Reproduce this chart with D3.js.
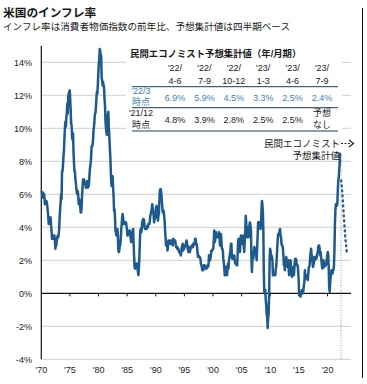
<!DOCTYPE html>
<html>
<head>
<meta charset="utf-8">
<script src="https://cdn.jsdelivr.net/npm/d3@7"></script>
<style>
  body { margin: 0; background: #fff; }
  text { font-family: "Liberation Sans", "Noto Sans CJK JP", sans-serif; fill: #1a1a1a; }
</style>
</head>
<body>
<div id="chart"></div>
<script>
const W = 367, H = 384;

// CPI year-over-year (%), monthly, Jan 1970 - Mar 2022
const cpi1970s = [
  6.2, 6.1, 5.8, 6.1, 6.0, 6.0, 5.9, 5.4, 5.6, 5.6, 5.6, 5.5,
  5.3, 5.0, 4.7, 4.2, 4.4, 4.6, 4.4, 4.6, 4.1, 3.8, 3.3, 3.3,
  3.3, 3.5, 3.5, 3.5, 3.2, 2.7, 2.9, 2.9, 3.2, 3.4, 3.5, 3.4,
  3.6, 3.9, 4.6, 5.1, 5.5, 6.0, 5.7, 7.4, 7.4, 7.8, 8.3, 8.7,
  9.4, 10.0, 10.4, 10.1, 10.7, 10.9, 11.5, 10.9, 11.9, 12.1, 12.2, 12.3,
  11.8, 11.2, 10.3, 10.2, 9.5, 9.3, 9.7, 8.6, 7.9, 7.4, 7.4, 6.9,
  6.7, 6.3, 6.1, 6.0, 6.2, 5.9, 5.4, 5.7, 5.5, 5.3, 4.9, 4.9,
  5.2, 6.0, 6.4, 6.9, 6.7, 6.9, 6.8, 6.6, 6.6, 6.4, 6.7, 6.7,
  6.8, 6.4, 6.6, 6.5, 6.9, 7.4, 7.7, 7.9, 8.3, 8.9, 8.9, 9.0,
  9.3, 9.9, 10.1, 10.5, 10.9, 10.9, 11.3, 11.8, 12.2, 12.1, 12.6, 13.3
];
const cpi1980s = [
  13.9, 14.2, 14.8, 14.7, 14.4, 14.4, 13.1, 12.9, 12.6, 12.8, 12.6, 12.5,
  11.8, 11.4, 10.5, 10.0, 9.8, 9.6, 10.8, 10.8, 11.0, 10.1, 9.6, 8.9,
  8.4, 7.6, 6.8, 6.5, 6.7, 7.1, 6.4, 5.9, 5.0, 5.1, 4.6, 3.8,
  3.7, 3.5, 3.6, 3.9, 3.5, 2.6, 2.5, 2.6, 2.9, 2.9, 3.3, 3.8,
  4.2, 4.6, 4.8, 4.6, 4.2, 4.2, 4.2, 4.3, 4.3, 4.3, 4.1, 3.9,
  3.5, 3.5, 3.7, 3.7, 3.8, 3.8, 3.6, 3.3, 3.1, 3.2, 3.5, 3.8,
  3.9, 3.1, 2.3, 1.6, 1.5, 1.8, 1.6, 1.6, 1.8, 1.5, 1.3, 1.1,
  1.5, 2.1, 3.0, 3.8, 3.9, 3.7, 3.9, 4.3, 4.4, 4.5, 4.5, 4.4,
  4.0, 3.9, 3.9, 3.9, 3.9, 4.0, 4.1, 4.0, 4.2, 4.2, 4.2, 4.4,
  4.7, 4.8, 5.0, 5.1, 5.4, 5.2, 5.0, 4.7, 4.3, 4.5, 4.7, 4.6
];
const cpi1990s = [
  5.2, 5.3, 5.2, 4.7, 4.4, 4.7, 4.8, 5.6, 6.2, 6.3, 6.3, 6.1,
  5.7, 5.3, 4.9, 4.9, 5.0, 4.7, 4.4, 3.8, 3.4, 2.9, 3.0, 3.1,
  2.6, 2.8, 3.2, 3.2, 3.0, 3.1, 3.2, 3.1, 3.0, 3.2, 3.0, 2.9,
  3.3, 3.2, 3.1, 3.2, 3.2, 3.0, 2.8, 2.8, 2.7, 2.8, 2.7, 2.7,
  2.5, 2.5, 2.5, 2.4, 2.3, 2.5, 2.8, 2.9, 3.0, 2.6, 2.7, 2.7,
  2.8, 2.9, 2.9, 3.1, 3.2, 3.0, 2.8, 2.6, 2.5, 2.8, 2.6, 2.5,
  2.7, 2.7, 2.8, 2.9, 2.9, 2.8, 3.0, 2.9, 3.0, 3.0, 3.3, 3.3,
  3.0, 3.0, 2.8, 2.5, 2.2, 2.3, 2.2, 2.2, 2.2, 2.1, 1.8, 1.7,
  1.6, 1.4, 1.4, 1.4, 1.7, 1.7, 1.7, 1.6, 1.5, 1.5, 1.5, 1.6,
  1.7, 1.6, 1.7, 2.3, 2.1, 2.0, 2.1, 2.3, 2.6, 2.6, 2.6, 2.7
];
const cpi2000s = [
  2.7, 3.2, 3.8, 3.1, 3.2, 3.7, 3.7, 3.4, 3.5, 3.4, 3.4, 3.4,
  3.7, 3.5, 2.9, 3.3, 3.6, 3.2, 2.7, 2.7, 2.6, 2.1, 1.9, 1.6,
  1.1, 1.1, 1.5, 1.6, 1.2, 1.1, 1.5, 1.8, 1.5, 2.0, 2.2, 2.4,
  2.6, 3.0, 3.0, 2.2, 2.1, 2.1, 2.1, 2.2, 2.3, 2.0, 1.8, 1.9,
  1.9, 1.7, 1.7, 2.3, 3.1, 3.3, 3.0, 2.7, 2.5, 3.2, 3.5, 3.3,
  3.0, 3.0, 3.1, 3.5, 2.8, 2.5, 3.2, 3.6, 4.7, 4.3, 3.5, 3.4,
  4.0, 3.6, 3.4, 3.5, 4.2, 4.3, 4.1, 3.8, 2.1, 1.3, 2.0, 2.5,
  2.1, 2.4, 2.8, 2.6, 2.7, 2.7, 2.4, 2.0, 2.8, 3.5, 4.3, 4.1,
  4.3, 4.0, 4.0, 3.9, 4.2, 5.0, 5.6, 5.4, 4.9, 3.7, 1.1, 0.1,
  0.0, 0.2, -0.4, -0.7, -1.3, -1.4, -2.1, -1.5, -1.3, -0.2, 1.8, 2.7
];
const cpi2010s = [
  2.6, 2.1, 2.3, 2.2, 2.0, 1.1, 1.2, 1.1, 1.1, 1.2, 1.1, 1.5,
  1.6, 2.1, 2.7, 3.2, 3.6, 3.6, 3.6, 3.8, 3.9, 3.5, 3.4, 3.0,
  2.9, 2.9, 2.7, 2.3, 1.7, 1.7, 1.4, 1.7, 2.0, 2.2, 1.8, 1.7,
  1.6, 2.0, 1.5, 1.1, 1.4, 1.8, 2.0, 1.5, 1.2, 1.0, 1.2, 1.5,
  1.6, 1.1, 1.5, 2.0, 2.1, 2.1, 2.0, 1.7, 1.7, 1.7, 1.3, 0.8,
  -0.1, 0.0, -0.1, -0.2, 0.0, 0.1, 0.2, 0.2, 0.0, 0.2, 0.5, 0.7,
  1.4, 1.0, 0.9, 1.1, 1.0, 1.0, 0.8, 1.1, 1.5, 1.6, 1.7, 2.1,
  2.5, 2.7, 2.4, 2.2, 1.9, 1.6, 1.7, 1.9, 2.2, 2.0, 2.2, 2.1,
  2.1, 2.2, 2.4, 2.5, 2.8, 2.9, 2.9, 2.7, 2.3, 2.5, 2.2, 1.9,
  1.6, 1.5, 1.9, 2.0, 1.8, 1.6, 1.8, 1.7, 1.7, 1.8, 2.1, 2.3
];
const cpi2020s = [
  2.5, 2.3, 1.5, 0.3, 0.1, 0.6, 1.0, 1.3, 1.4, 1.2, 1.2, 1.4,
  1.4, 1.7, 2.6, 4.2, 5.0, 5.4, 5.4, 5.3, 5.4, 6.2, 6.8, 7.0,
  7.5, 7.9, 8.5
];
const startYear = 1970;

// Economist consensus forecast (quarterly)
const quarterTop = ["'22/", "'22/", "'22/", "'23/", "'23/", "'23/"];
const quarterBottom = ["4-6", "7-9", "10-12", "1-3", "4-6", "7-9"];
const quarterMid = [2022.375, 2022.625, 2022.875, 2023.125, 2023.375, 2023.625];
const forecastMar22 = [6.9, 5.9, 4.5, 3.3, 2.5, 2.4];
const forecastDec21 = ["4.8%", "3.9%", "2.8%", "2.5%", "2.5%", null];

const yTicks = [-4, -2, 0, 2, 4, 6, 8, 10, 12, 14];
const xTicks = [1970, 1975, 1980, 1985, 1990, 1995, 2000, 2005, 2010, 2015, 2020];

const blue = "#1f5a8c";
const lightBlue = "#3f7fb4";

const series = [].concat(cpi1970s, cpi1980s, cpi1990s, cpi2000s, cpi2010s, cpi2020s)
  .map((v, i) => ({ t: startYear + (i + 0.5) / 12, v: v }));

const x = d3.scaleLinear().domain([1970, 2024.1]).range([41.3, 351]);
const y = d3.scaleLinear().domain([-4, 15]).range([359.3, 45.8]);

const svg = d3.select("#chart").append("svg")
  .attr("width", W).attr("height", H);

// titles
svg.append("text").attr("x", 3).attr("y", 17)
  .style("font-size", "11.7px").style("font-weight", "bold")
  .text("米国のインフレ率");
svg.append("text").attr("x", 3).attr("y", 30)
  .style("font-size", "9.6px")
  .text("インフレ率は消費者物価指数の前年比、予想集計値は四半期ベース");

// right border
svg.append("line").attr("x1", 362.5).attr("x2", 362.5).attr("y1", 8).attr("y2", 378)
  .attr("stroke", "#111").attr("stroke-width", 1);

// gridlines
svg.append("g").selectAll("line")
  .data(yTicks.filter(d => d !== 0))
  .enter().append("line")
  .attr("x1", x(1970)).attr("x2", x.range()[1])
  .attr("y1", d => y(d)).attr("y2", d => y(d))
  .attr("stroke", "#cfcfcf").attr("stroke-width", 1);

// y labels
svg.append("g").selectAll("text")
  .data(yTicks)
  .enter().append("text")
  .attr("x", 32).attr("y", d => y(d) + 3.5)
  .attr("text-anchor", "end")
  .style("font-size", "9px")
  .text(d => d + "%");

// x labels
svg.append("g").selectAll("text")
  .data(xTicks)
  .enter().append("text")
  .attr("x", d => x(d)).attr("y", 373)
  .attr("text-anchor", "middle")
  .style("font-size", "9px")
  .text(d => "'" + String(d).slice(2));

// forecast start marker (dotted)
svg.append("line")
  .attr("x1", x(quarterMid[0])).attr("x2", x(quarterMid[0]))
  .attr("y1", 160).attr("y2", y(-4))
  .attr("stroke", "#999").attr("stroke-width", 1)
  .attr("stroke-dasharray", "1,1.5");

// zero line with ticks
svg.append("line")
  .attr("x1", x(1970)).attr("x2", x.range()[1])
  .attr("y1", y(0)).attr("y2", y(0))
  .attr("stroke", "#111").attr("stroke-width", 1.2);
svg.append("g").selectAll("line")
  .data(xTicks.slice(1))
  .enter().append("line")
  .attr("x1", d => x(d)).attr("x2", d => x(d))
  .attr("y1", y(0)).attr("y2", y(0) + 3)
  .attr("stroke", "#111").attr("stroke-width", 1);

// left axis
svg.append("line")
  .attr("x1", 41.3).attr("x2", 41.3)
  .attr("y1", y(15)).attr("y2", y(-4))
  .attr("stroke", "#111").attr("stroke-width", 1.2);

// CPI line
const line = d3.line().x(d => x(d.t)).y(d => y(d.v));
svg.append("path").datum(series)
  .attr("d", line)
  .attr("fill", "none").attr("stroke", blue)
  .attr("stroke-width", 2.5).attr("stroke-linejoin", "round");

// forecast dashed line
const fc = quarterMid.map((t, i) => ({ t: t, v: forecastMar22[i] }));
svg.append("path").datum(fc)
  .attr("d", line)
  .attr("fill", "none").attr("stroke", blue)
  .attr("stroke-width", 2.2).attr("stroke-dasharray", "3,2");

// forecast label
svg.append("text").attr("x", 340).attr("y", 147)
  .attr("text-anchor", "end").style("font-size", "9.5px")
  .text("民間エコノミスト");
svg.append("text").attr("x", 340).attr("y", 159)
  .attr("text-anchor", "end").style("font-size", "9.5px")
  .text("予想集計値");
svg.append("line").attr("x1", 341).attr("x2", 351).attr("y1", 143.5).attr("y2", 143.5)
  .attr("stroke", "#222").attr("stroke-width", 1).attr("stroke-dasharray", "2,1.5");
svg.append("path").attr("d", "M349,140 L353.5,143.5 L349,147")
  .attr("fill", "none").attr("stroke", "#222").attr("stroke-width", 1.2);

// table
const table = svg.append("g");
table.append("rect").attr("x", 126).attr("y", 44).attr("width", 216).attr("height", 90)
  .attr("fill", "#fff");
table.append("text").attr("x", 130).attr("y", 57)
  .style("font-size", "9.4px").style("font-weight", "bold")
  .text("民間エコノミスト予想集計値（年/月期）");

const colX = d3.scalePoint().domain(d3.range(6)).range([175, 322]);
const labelX = 141;

table.selectAll(".h1").data(quarterTop).enter().append("text")
  .attr("x", (d, i) => colX(i)).attr("y", 71)
  .attr("text-anchor", "middle").style("font-size", "9px").text(d => d);
table.selectAll(".h2").data(quarterBottom).enter().append("text")
  .attr("x", (d, i) => colX(i)).attr("y", 83.5)
  .attr("text-anchor", "middle").style("font-size", "9px").text(d => d);

[86.7, 107.7, 131].forEach(yy => {
  table.append("line").attr("x1", 132).attr("x2", 338).attr("y1", yy).attr("y2", yy)
    .attr("stroke", "#1d3b5e").attr("stroke-width", 1);
});

// row 1 (March 2022)
table.append("text").attr("x", labelX).attr("y", 94).attr("text-anchor", "middle")
  .style("font-size", "9px").style("fill", lightBlue).text("'22/3");
table.append("text").attr("x", labelX).attr("y", 105).attr("text-anchor", "middle")
  .style("font-size", "9px").style("fill", lightBlue).text("時点");
table.selectAll(".r1").data(forecastMar22).enter().append("text")
  .attr("x", (d, i) => colX(i)).attr("y", 101)
  .attr("text-anchor", "middle").style("font-size", "9px").style("fill", lightBlue)
  .text(d => d.toFixed(1) + "%");

// row 2 (December 2021)
table.append("text").attr("x", labelX).attr("y", 116).attr("text-anchor", "middle")
  .style("font-size", "9px").text("'21/12");
table.append("text").attr("x", labelX).attr("y", 128).attr("text-anchor", "middle")
  .style("font-size", "9px").text("時点");
table.selectAll(".r2").data(forecastDec21).enter().append("text")
  .attr("x", (d, i) => colX(i)).attr("y", 123)
  .attr("text-anchor", "middle").style("font-size", "9px")
  .text(d => d === null ? "" : d);
table.append("text").attr("x", colX(5)).attr("y", 116).attr("text-anchor", "middle")
  .style("font-size", "9px").text("予想");
table.append("text").attr("x", colX(5)).attr("y", 128).attr("text-anchor", "middle")
  .style("font-size", "9px").text("なし");
</script>
</body>
</html>
